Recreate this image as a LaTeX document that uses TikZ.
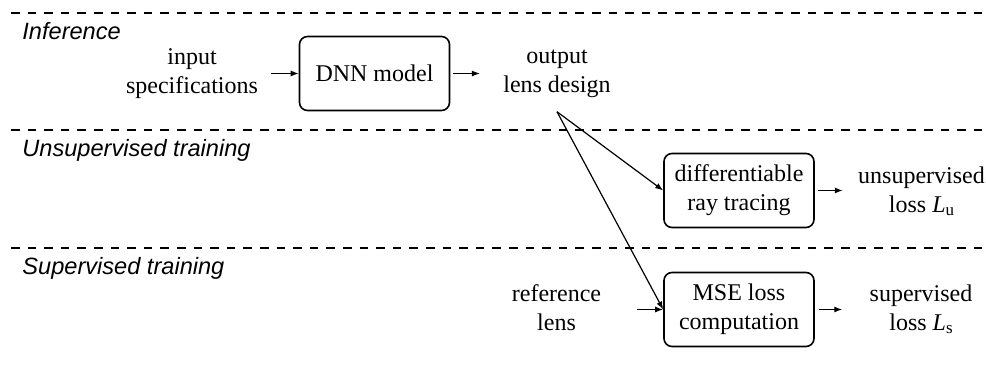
\documentclass[tikz,border=0pt]{standalone}
\usepackage{fontspec}
\setmainfont{Liberation Serif}
\newfontfamily\labelfont{Liberation Sans}
\usetikzlibrary{arrows.meta}
% loss symbol: italic L with an upright, lowered subscript
\newcommand{\lossL}[1]{\textit{L}\raisebox{-0.3ex}{\fontsize{8.5}{9}\selectfont #1}}
\begin{document}
\begin{tikzpicture}[x={(0.5pt,0)}, y={(0,-0.5pt)},
  txt/.style={font=\fontsize{12}{14.5}\selectfont, align=center, inner sep=0pt},
  blockbox/.style={txt, draw, rounded corners=4pt, line width=0.8pt,
                   minimum width=75pt, minimum height=37pt},
  sectionlabel/.style={font=\labelfont\itshape\fontsize{11.8}{14}\selectfont,
                       anchor=base west, inner sep=0pt},
  divider/.style={line width=0.8pt, dash pattern=on 4.3pt off 4pt},
  arr/.style={-{Latex[length=4pt,width=3pt]}, line width=0.6pt}]
\useasboundingbox (0,0) rectangle (986,368);

% stage separators
\draw[divider] (11,13) -- (986,13);
\draw[divider] (11,130) -- (986,130);
\draw[divider] (11,248) -- (986,248);

% stage titles
\node[sectionlabel] (infer) at (22,40) {Inference};
\node[sectionlabel] (unsuptitle) at (22,157) {Unsupervised training};
\node[sectionlabel] (suptitle) at (22,275) {Supervised training};

% inference row
\node[txt] (in) at (192,73.5) {input\\specifications};
\node[blockbox] (dnn) at (374.5,73.5) {DNN model};
\node[txt] (out) at (557,73.5) {output\\lens design};

% unsupervised row
\node[blockbox] (diff) at (739,190.5) {differentiable\\ray tracing};
\node[txt] (unsup) at (921.5,191) {unsupervised\\loss \lossL{u}};

% supervised row
\node[txt] (ref) at (556.5,308) {reference\\lens};
\node[blockbox] (mse) at (739,309.5) {MSE loss\\computation};
\node[txt] (sup) at (921,309.5) {supervised\\loss \lossL{s}};

% split point below the predicted design
\coordinate (split) at ([yshift=-7pt]out.south);

% connectors
\draw[arr, shorten <=6.5pt] (in.east) -- (dnn.west);
\draw[arr, shorten <=1.5pt, shorten >=11.5pt] (dnn.east) -- (out.west);
\draw[arr] (split) -- (diff.west);
\draw[arr] (split) -- (mse.west);
\draw[arr, shorten <=1.5pt, shorten >=7.5pt] (diff.east) -- (diff.east -| unsup.west);
\draw[arr, shorten <=17.5pt] (ref.east |- mse.west) -- (mse.west);
\draw[arr, shorten <=2pt, shorten >=13.5pt] (mse.east) -- (mse.east -| sup.west);
\end{tikzpicture}
\end{document}
